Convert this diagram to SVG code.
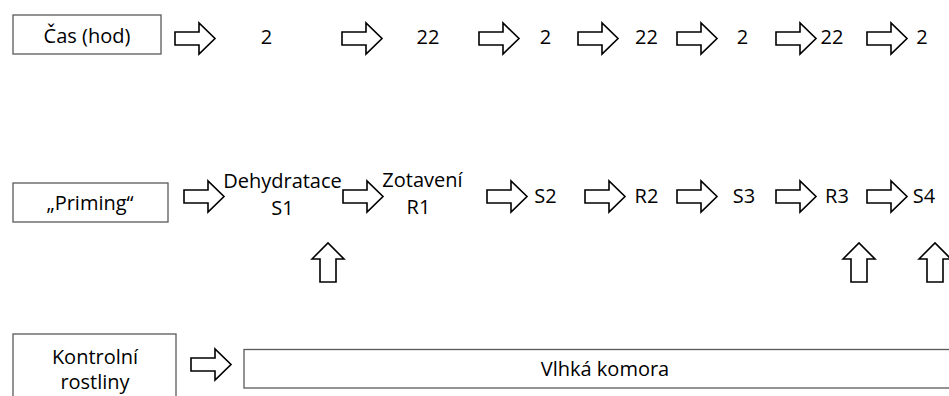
<svg xmlns="http://www.w3.org/2000/svg" xmlns:xlink="http://www.w3.org/1999/xlink" width="949" height="396" viewBox="0 0 949 396">
<style>
  .box { fill: #ffffff; stroke: #595959; stroke-width: 1.3; }
  .arr { fill: #ffffff; stroke: #000000; stroke-width: 1.6; stroke-linejoin: miter; }
  text { font-family: "Open Sans", "Liberation Sans", sans-serif; font-size: 20px; fill: #000000; text-anchor: middle; }
</style>
<defs>
  <path id="ra" class="arr" d="M0,9 H24 V0 L40,15.5 L24,31 V22 H0 Z"/>
  <path id="ua" class="arr" d="M0,16 L16,0 L32,16 H24 V39 H8 V16 Z"/>
</defs>
<rect width="949" height="396" fill="#ffffff"/>

<g id="cas">
  <rect class="box" x="13" y="15" width="148" height="39"/>
  <text x="87" y="43">Čas (hod)</text>
</g>
<g id="priming">
  <rect class="box" x="13" y="183" width="155" height="39"/>
  <text x="90" y="210">„Priming“</text>
</g>
<g id="kontrolni">
  <rect class="box" x="13" y="334" width="163" height="80"/>
  <text x="95" y="364">Kontrolní</text>
  <text x="95" y="389">rostliny</text>
</g>
<g id="vlhka">
  <rect class="box" x="244" y="349.5" width="720" height="38.5"/>
  <text x="605" y="376">Vlhká komora</text>
</g>

<g id="times">
  <text x="266.5" y="44">2</text>
  <text x="428" y="44">22</text>
  <text x="545.5" y="44">2</text>
  <text x="646.5" y="44">22</text>
  <text x="742.5" y="44">2</text>
  <text x="832" y="44">22</text>
  <text x="922" y="44">2</text>
</g>
<g id="stages">
  <text x="282.5" y="188">Dehydratace</text>
  <text x="282.5" y="215">S1</text>
  <text x="422.5" y="187">Zotavení</text>
  <text x="418.5" y="214">R1</text>
  <text x="545.5" y="203">S2</text>
  <text x="646.5" y="203">R2</text>
  <text x="744" y="203">S3</text>
  <text x="837" y="203">R3</text>
  <text x="924" y="203">S4</text>
</g>

<g id="connectors">
  <use xlink:href="#ra" x="175" y="23"/>
  <use xlink:href="#ra" x="342" y="23"/>
  <use xlink:href="#ra" x="479" y="23"/>
  <use xlink:href="#ra" x="578" y="23"/>
  <use xlink:href="#ra" x="677" y="23"/>
  <use xlink:href="#ra" x="776" y="23"/>
  <use xlink:href="#ra" x="867" y="23"/>

  <use xlink:href="#ra" x="184" y="181"/>
  <use xlink:href="#ra" x="343" y="181"/>
  <use xlink:href="#ra" x="487" y="181"/>
  <use xlink:href="#ra" x="585" y="181"/>
  <use xlink:href="#ra" x="677" y="181"/>
  <use xlink:href="#ra" x="776" y="181"/>
  <use xlink:href="#ra" x="867" y="181"/>

  <use xlink:href="#ra" x="191" y="349"/>

  <use xlink:href="#ua" x="312" y="243"/>
  <use xlink:href="#ua" x="843" y="243"/>
  <use xlink:href="#ua" x="919" y="243"/>
</g>
</svg>
